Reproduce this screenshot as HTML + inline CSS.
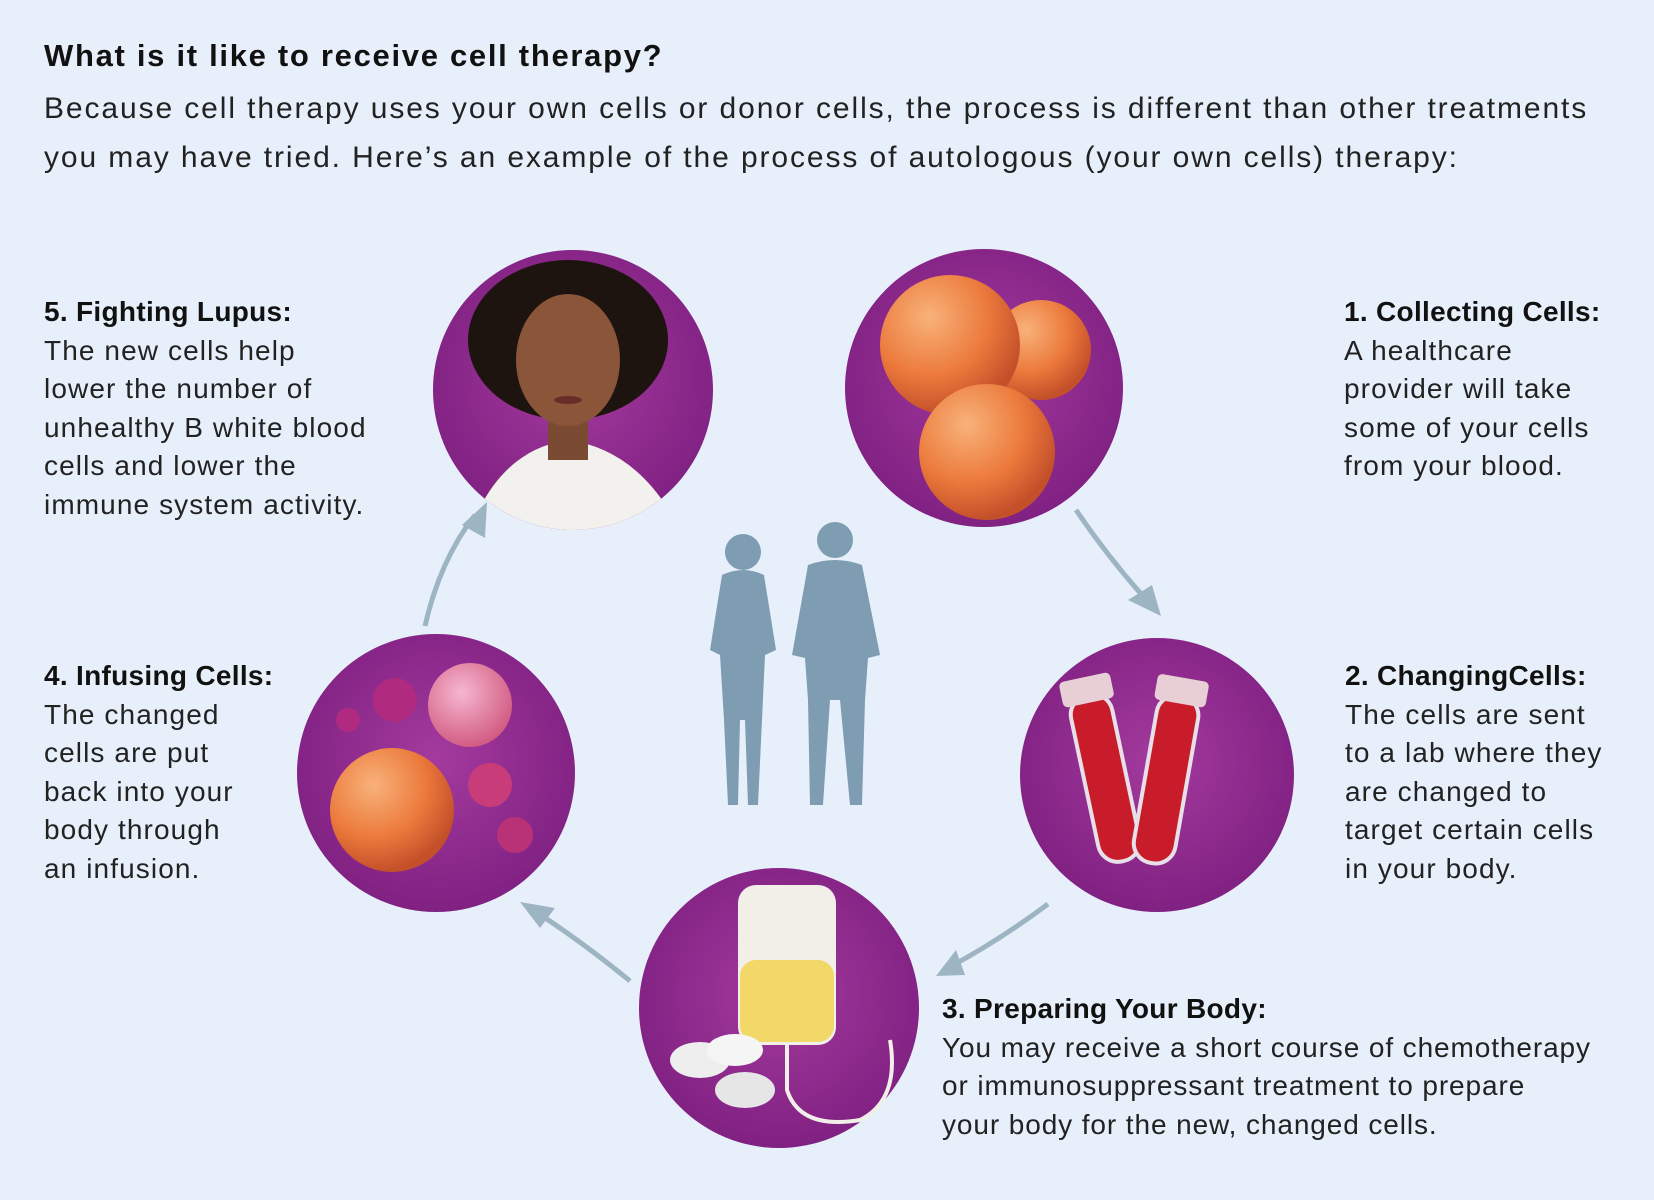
<!DOCTYPE html>
<html><head><meta charset="utf-8"><style>
html,body{margin:0;padding:0}
body{width:1654px;height:1200px;background:#e7f0fa;position:relative;overflow:hidden;font-family:"Liberation Sans",sans-serif;color:#1a1a1a}
.t{position:absolute;font-size:28px;line-height:38.5px;color:#222;letter-spacing:1.1px;white-space:nowrap}
.t b{font-weight:bold;color:#111;letter-spacing:0.3px}
</style></head><body>
<div style="position:absolute;left:44px;top:38px;font-size:31px;font-weight:bold;color:#111;letter-spacing:1.7px">What is it like to receive cell therapy?</div>
<div style="position:absolute;left:44px;top:84px;font-size:30px;line-height:49px;color:#222;letter-spacing:1.9px;white-space:nowrap">Because cell therapy uses your own cells or donor cells, the process is different than other treatments<br>you may have tried. Here’s an example of the process of autologous (your own cells) therapy:</div>

<svg width="1654" height="1200" style="position:absolute;left:0;top:0">
<defs>
<radialGradient id="og" cx="35%" cy="30%" r="70%"><stop offset="0" stop-color="#f8b27a"/><stop offset="0.6" stop-color="#ec7a3c"/><stop offset="1" stop-color="#c4502a"/></radialGradient>
<radialGradient id="pk" cx="40%" cy="35%" r="70%"><stop offset="0" stop-color="#f6b7cf"/><stop offset="1" stop-color="#d0567e"/></radialGradient>
<radialGradient id="bg" cx="50%" cy="45%" r="60%"><stop offset="0" stop-color="#a43a9e"/><stop offset="1" stop-color="#7d1f80"/></radialGradient>
</defs>
<g stroke="#9db4c3" stroke-width="5" fill="none">
<path d="M1076,510 Q1110,560 1150,604"/>
<path d="M1048,904 Q1000,940 948,968"/>
<path d="M630,981 Q580,940 530,908"/>
<path d="M425,626 Q440,560 475,515"/>
</g>
<g fill="#9db4c3">
<path d="M1161,616 L1128,600 L1152,585 Z"/>
<path d="M936,976 L956,950 L965,975 Z"/>
<path d="M520,902 L555,908 L540,928 Z"/>
<path d="M487,502 L485,538 L462,525 Z"/>
</g>
<circle cx="573" cy="390" r="140" fill="url(#bg)"/>
<circle cx="984" cy="388" r="139" fill="url(#bg)"/>
<circle cx="1157" cy="775" r="137" fill="url(#bg)"/>
<circle cx="779" cy="1008" r="140" fill="url(#bg)"/>
<circle cx="436" cy="773" r="139" fill="url(#bg)"/>
<clipPath id="c5"><circle cx="573" cy="390" r="140"/></clipPath>
<g clip-path="url(#c5)">
<ellipse cx="568" cy="340" rx="100" ry="80" fill="#1d1410"/>
<path d="M470,530 Q500,450 568,440 Q640,450 680,530 Z" fill="#f3f1ee"/>
<rect x="548" y="400" width="40" height="60" fill="#7a4a32"/>
<ellipse cx="568" cy="360" rx="52" ry="66" fill="#8a5538"/>
<ellipse cx="568" cy="400" rx="14" ry="4" fill="#6a2e2a"/>
</g>
<circle cx="1041" cy="350" r="50" fill="url(#og)"/>
<circle cx="950" cy="345" r="70" fill="url(#og)"/>
<circle cx="987" cy="452" r="68" fill="url(#og)"/>
<g transform="rotate(-12 1120 780)"><rect x="1085" y="690" width="42" height="170" rx="20" fill="#c81c2a" stroke="#e8e0e8" stroke-width="4"/><rect x="1080" y="672" width="52" height="26" rx="5" fill="#e8cfd6"/></g>
<g transform="rotate(10 1170 780)"><rect x="1145" y="695" width="42" height="170" rx="20" fill="#c81c2a" stroke="#e8e0e8" stroke-width="4"/><rect x="1140" y="677" width="52" height="26" rx="5" fill="#e8cfd6"/></g>
<rect x="738" y="885" width="98" height="160" rx="18" fill="#f1efe8"/>
<rect x="740" y="960" width="94" height="82" rx="16" fill="#f2d868"/>
<path d="M787,1045 L787,1090 Q800,1130 860,1120 Q900,1100 890,1040" stroke="#f1efe8" stroke-width="4" fill="none"/>
<ellipse cx="700" cy="1060" rx="30" ry="18" fill="#eeeeee"/>
<ellipse cx="745" cy="1090" rx="30" ry="18" fill="#e6e6e6"/>
<ellipse cx="735" cy="1050" rx="28" ry="16" fill="#f5f5f5"/>
<circle cx="392" cy="810" r="62" fill="url(#og)"/>
<circle cx="470" cy="705" r="42" fill="url(#pk)"/>
<circle cx="490" cy="785" r="22" fill="#c93c7a"/>
<circle cx="515" cy="835" r="18" fill="#b93278"/>
<circle cx="395" cy="700" r="22" fill="#b02a80"/>
<circle cx="348" cy="720" r="12" fill="#b02a80"/>
<g fill="#7e9db3">
<circle cx="743" cy="552" r="18"/>
<path d="M722,575 Q743,565 764,575 L776,650 L765,655 L762,720 L758,805 L748,805 L745,720 L740,720 L738,805 L728,805 L724,720 L720,655 L710,650 Z"/>
<circle cx="835" cy="540" r="18"/>
<path d="M808,565 Q835,555 862,565 L880,655 L868,658 L865,700 L862,805 L850,805 L840,700 L830,700 L823,805 L810,805 L808,700 L805,658 L792,655 Z"/>
</g>
</svg>

<div class="t" style="left:44px;top:293px"><b>5. Fighting Lupus:</b><br>The new cells help<br>lower the number of<br>unhealthy B white blood<br>cells and lower the<br>immune system activity.</div>
<div class="t" style="left:1344px;top:293px"><b>1. Collecting Cells:</b><br>A healthcare<br>provider will take<br>some of your cells<br>from your blood.</div>
<div class="t" style="left:1345px;top:657px"><b>2. ChangingCells:</b><br>The cells are sent<br>to a lab where they<br>are changed to<br>target certain cells<br>in your body.</div>
<div class="t" style="left:44px;top:657px"><b>4. Infusing Cells:</b><br>The changed<br>cells are put<br>back into your<br>body through<br>an infusion.</div>
<div class="t" style="left:942px;top:990px;letter-spacing:0.9px"><b>3. Preparing Your Body:</b><br>You may receive a short course of chemotherapy<br>or immunosuppressant treatment to prepare<br>your body for the new, changed cells.</div>
</body></html>
